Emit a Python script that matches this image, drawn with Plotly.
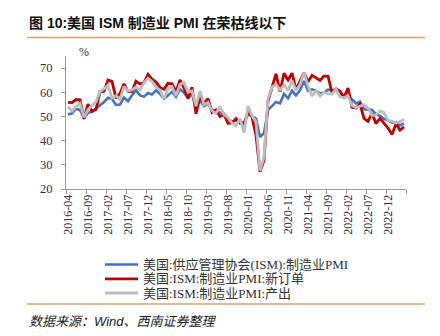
import pandas as pd
import plotly.graph_objects as go

# Monthly categories, 2016-04 .. 2023-04
MONTHS = [str(p) for p in pd.period_range("2016-04", "2023-04", freq="M")]

TICK_LABELS = ["2016-04", "2016-09", "2017-02", "2017-07", "2017-12", "2018-05",
               "2018-10", "2019-03", "2019-08", "2020-01", "2020-06", "2020-11",
               "2021-04", "2021-09", "2022-02", "2022-07", "2022-12"]

# ISM manufacturing PMI (headline)
PMI = [50.8, 51.3, 53.2, 52.6, 49.4, 51.5, 51.9, 53.2, 54.7,
       56.0, 57.7, 57.2, 54.8, 54.9, 57.8, 56.3, 58.8, 60.8, 58.7, 58.2, 59.7,
       59.1, 60.8, 59.3, 57.3, 58.7, 60.2, 58.1, 61.3, 59.8, 57.7, 59.3, 54.1,
       56.6, 54.2, 55.3, 52.8, 52.1, 51.7, 51.2, 49.1, 47.8, 48.3, 48.1, 47.2,
       50.9, 50.1, 49.1, 41.5, 43.1, 52.6, 54.2, 56.0, 55.4, 59.3, 57.5, 60.7,
       58.7, 60.8, 64.7, 60.7, 61.2, 60.6, 59.5, 59.9, 61.1, 60.8, 61.1, 58.7,
       57.6, 58.6, 57.1, 55.4, 56.1, 53.0, 52.8, 52.8, 50.9, 50.2, 49.0, 48.4,
       47.4, 47.7, 46.3, 47.1]

# ISM manufacturing: new orders
NEW_ORDERS = [55.8, 55.7, 57.0, 56.9, 49.1, 55.1, 52.1, 53.0, 60.2,
              60.4, 65.1, 64.5, 57.5, 59.5, 63.5, 60.4, 60.3, 64.6, 63.4, 64.0, 67.4,
              65.4, 64.2, 61.9, 61.2, 63.7, 63.5, 60.2, 65.1, 61.8, 57.4, 62.1, 51.1,
              58.2, 55.5, 57.4, 51.7, 52.7, 50.0, 50.8, 47.2, 47.3, 49.1, 47.2, 46.8,
              52.0, 49.8, 42.2, 27.1, 31.8, 56.4, 61.5, 67.6, 60.2, 67.9, 65.1, 67.9,
              61.1, 64.8, 68.0, 64.3, 67.0, 66.0, 64.9, 66.7, 66.7, 59.8, 61.5, 60.4,
              57.9, 61.7, 53.8, 53.5, 55.1, 49.2, 48.0, 51.3, 47.1, 49.2, 47.2, 45.2,
              42.5, 47.0, 44.3, 45.7]

# ISM manufacturing: production
PRODUCTION = [54.2, 52.2, 54.0, 55.4, 49.6, 52.8, 54.6, 56.0, 60.3,
              61.4, 62.9, 57.6, 58.6, 57.1, 62.4, 60.6, 61.0, 62.2, 61.0, 63.9, 65.8,
              64.5, 62.0, 61.0, 57.2, 61.5, 62.3, 58.5, 63.3, 63.9, 60.0, 60.6, 54.3,
              60.5, 54.8, 55.8, 52.3, 51.3, 54.1, 50.8, 49.5, 47.3, 46.2, 49.1, 43.2,
              54.3, 50.3, 47.7, 27.5, 33.2, 57.3, 62.1, 63.3, 61.0, 63.0, 60.8, 64.8,
              60.7, 63.2, 68.1, 62.5, 58.5, 60.8, 58.4, 60.0, 59.4, 59.3, 61.5, 58.1,
              57.8, 58.5, 54.5, 53.6, 54.2, 54.9, 53.5, 50.4, 50.6, 52.3, 51.5, 48.5,
              48.0, 47.3, 47.8, 48.9]

SERIES = [
    ("美国:供应管理协会(ISM):制造业PMI", PMI, "#4472C4", 2.6),
    ("美国:ISM:制造业PMI:新订单", NEW_ORDERS, "#C00000", 2.8),
    ("美国:ISM:制造业PMI:产出", PRODUCTION, "#BDBDBD", 2.8),
]

W, H = 440, 336
L, R, T, B = 66, 406, 56, 189  # plot area in pixels


def px(x):
    return (x - L) / (R - L)


def py(y):
    return (B - y) / (B - T)


SERIF = "Liberation Serif, Noto Sans CJK SC, serif"
SANS_CJK = "Liberation Sans, Noto Sans CJK SC, sans-serif"
AXIS_GREY = "#9a9a9a"
TEXT = "#333333"
RULE = "#D9A566"

idx = list(range(len(MONTHS)))

fig = go.Figure()
for name, vals, color, width in SERIES:
    fig.add_trace(go.Scatter(
        x=idx, y=vals, mode="lines", name=name,
        line=dict(color=color, width=width),
        customdata=MONTHS, hovertemplate="%{customdata}: %{y}<extra>" + name + "</extra>",
        showlegend=False,
    ))

tick_pos = [MONTHS.index(t) for t in TICK_LABELS]
boundaries = [i - 0.5 for i in range(0, len(MONTHS), 5)] + [len(MONTHS) - 0.5]

fig.update_xaxes(
    range=[-0.5, len(MONTHS) - 0.5],
    tickmode="array", tickvals=tick_pos, ticktext=TICK_LABELS,
    tickangle=-90, ticks="", showgrid=False, zeroline=False,
    showline=True, linecolor=AXIS_GREY, linewidth=1,
    tickfont=dict(family=SERIF, size=12, color=TEXT),
    minor=dict(tickmode="array", tickvals=boundaries, ticks="outside",
               ticklen=4, tickcolor=AXIS_GREY, tickwidth=1, showgrid=False),
)
fig.update_yaxes(
    range=[20, 75], tickmode="array", tickvals=[20, 30, 40, 50, 60, 70],
    ticks="outside", ticklen=4, tickcolor=AXIS_GREY, tickwidth=1,
    showgrid=False, zeroline=False,
    showline=True, linecolor=AXIS_GREY, linewidth=1,
    tickfont=dict(family=SERIF, size=12.5, color=TEXT),
    ticklabelstandoff=6,
)

shapes = [
    dict(type="line", xref="paper", yref="paper", x0=px(27), x1=px(425),
         y0=py(37.5), y1=py(37.5), line=dict(color=RULE, width=1.5)),
    dict(type="line", xref="paper", yref="paper", x0=px(27), x1=px(425),
         y0=py(304), y1=py(304), line=dict(color=RULE, width=1.5)),
]
annotations = [
    dict(text="<b>图 10:美国 ISM 制造业 PMI 在荣枯线以下</b>", xref="paper", yref="paper",
         x=px(27), y=py(23), xanchor="left", yanchor="middle", showarrow=False,
         font=dict(family=SANS_CJK, size=14, color="#111111")),
    dict(text="%", xref="paper", yref="paper", x=px(84), y=py(52),
         xanchor="center", yanchor="middle", showarrow=False,
         font=dict(family=SERIF, size=12, color=TEXT)),
    dict(text="<i>数据来源：Wind、西南证券整理</i>", xref="paper", yref="paper",
         x=px(27), y=py(321), xanchor="left", yanchor="middle", showarrow=False,
         font=dict(family=SANS_CJK, size=13, color="#222222")),
]

# Legend drawn as a compact stacked list below the axis
legend_rows = [264.5, 278.8, 293]
for (name, vals, color, width), ry in zip(SERIES, legend_rows):
    shapes.append(dict(type="line", xref="paper", yref="paper",
                       x0=px(105), x1=px(138), y0=py(ry), y1=py(ry),
                       line=dict(color=color, width=width)))
    annotations.append(dict(text=name, xref="paper", yref="paper",
                            x=px(141), y=py(ry), xanchor="left", yanchor="middle",
                            showarrow=False,
                            font=dict(family=SERIF, size=13, color=TEXT)))

fig.update_layout(
    width=W, height=H,
    margin=dict(l=L, r=W - R, t=T, b=H - B),
    paper_bgcolor="white", plot_bgcolor="white",
    shapes=shapes, annotations=annotations,
    showlegend=False,
)

fig.write_html("out.html")
